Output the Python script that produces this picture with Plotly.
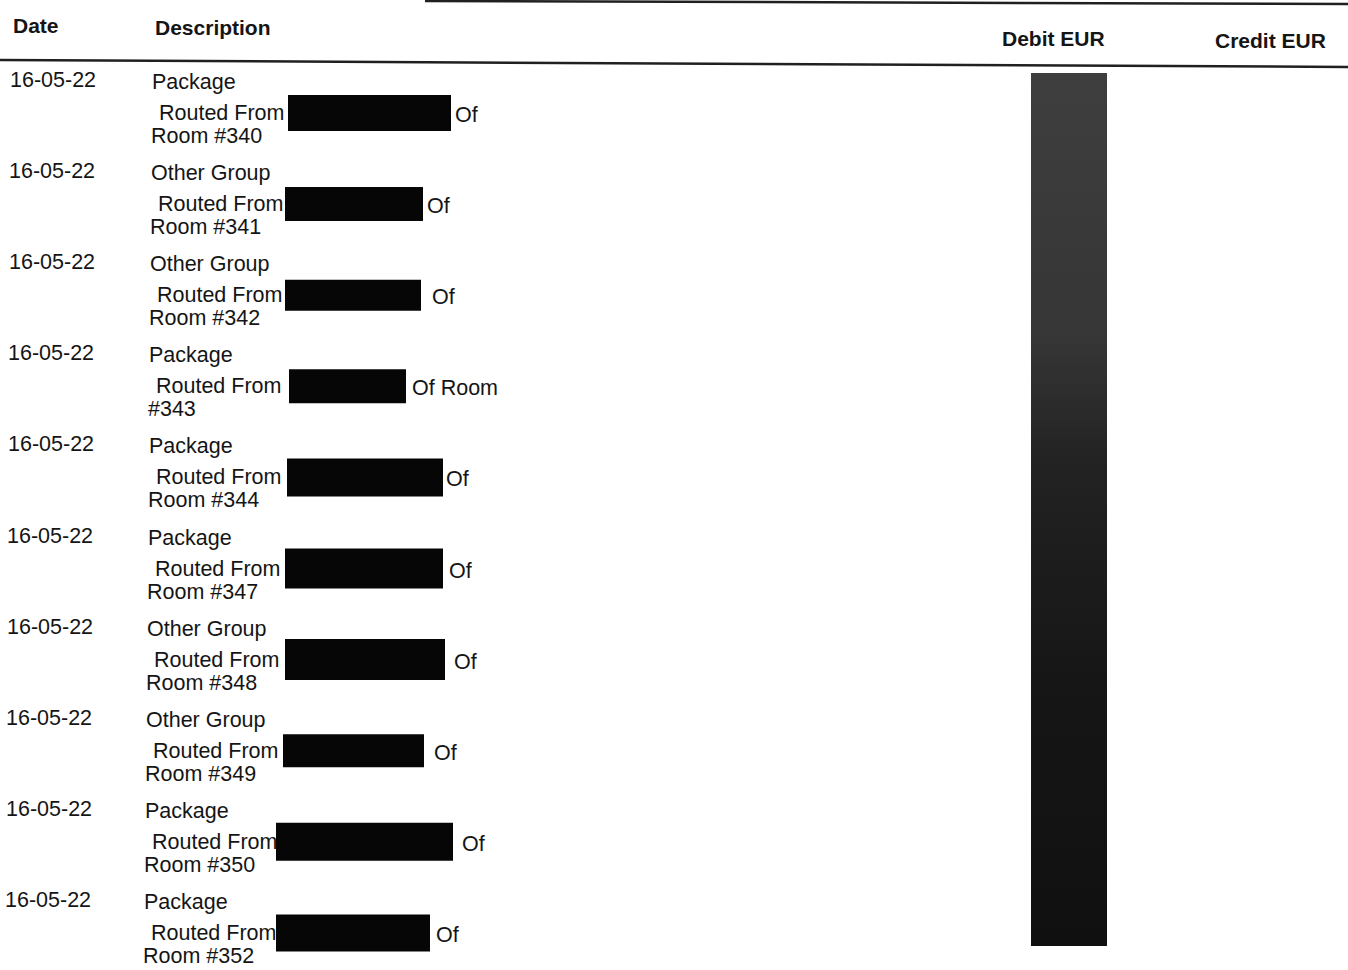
"""
Scanned folio page: date / description rows with redacted names
"""
import plotly.graph_objects as go

# data
dates = ["16-05-22"] * 10
groups = ["Package", "Other Group", "Other Group", "Package", "Package",
          "Package", "Other Group", "Other Group", "Package", "Package"]
rooms = [340, 341, 342, 343, 344, 347, 348, 349, 350, 352]
room_wrapped = [False, False, False, True, False, False, False, False, False, False]
headers = ["Date", "Description", "Debit EUR", "Credit EUR"]

# layout of the scan (pixels)
W, H = 1348, 970
ROW_Y0, ROW_PITCH = 81, 91.1
LINE2_DY, LINE3_DY = 32, 55
SKEW = 0.85  # page is a bit rotated, text drifts left going down
box_x = [288, 285, 285, 289, 287, 285, 285, 283, 276, 276]
box_w = [163, 138, 136, 117, 156, 158, 160, 141, 177, 154]
box_h = [36, 34, 31, 34, 38, 40, 41, 33, 38, 37]
of_gap = [2, 2, 9, 4, 1, 4, 7, 8, 7, 4]
DEBIT_BAR = dict(x0=1031, x1=1107, y0=73, y1=946)

COLORS = {
    "ink": "#151515",
    "redact": "#060606",
    "rule": "#202020",
}
FONT = "Liberation Sans, Arial, sans-serif"

fig = go.Figure()

# dark column covering the debit amounts
b = DEBIT_BAR
fig.add_trace(go.Scatter(
    x=[b["x0"], b["x1"], b["x1"], b["x0"], b["x0"]],
    y=[b["y0"], b["y0"], b["y1"], b["y1"], b["y0"]],
    mode="lines",
    line=dict(width=0),
    fill="toself",
    fillgradient=dict(
        type="vertical",
        start=b["y0"], stop=b["y1"],
        colorscale=[[0, "#3e3e3e"], [0.3, "#363636"], [0.45, "#222222"],
                    [0.7, "#161616"], [1, "#101010"]],
    ),
    hoverinfo="skip",
    showlegend=False,
))

annotations = []


def add_text(x, y, text, size=21.5, bold=False):
    annotations.append(dict(
        x=x, y=y, xref="x", yref="y", text=f"<b>{text}</b>" if bold else text,
        showarrow=False, xanchor="left", yanchor="middle",
        font=dict(family=FONT, size=size, color=COLORS["ink"]),
    ))


# header
add_text(11, 25, headers[0], size=21, bold=True)
add_text(153, 27, headers[1], size=21, bold=True)
add_text(1000, 38, headers[2], size=21, bold=True)
add_text(1213, 40, headers[3], size=21, bold=True)

# rules
fig.add_shape(type="line", x0=425, y0=1, x1=W, y1=4,
              line=dict(color=COLORS["rule"], width=2.5))
fig.add_shape(type="line", x0=0, y0=60, x1=W, y1=67,
              line=dict(color=COLORS["rule"], width=2.5))

for i, (d, g, r) in enumerate(zip(dates, groups, rooms)):
    y = ROW_Y0 + i * ROW_PITCH
    dx = -SKEW * i
    add_text(8 + dx * 0.6, y - 1, d)
    add_text(150 + dx, y + 1, g)
    add_text(157 + dx, y + LINE2_DY, "Routed From")
    # redaction box
    bx0 = box_x[i]
    bx1 = bx0 + box_w[i]
    yc = y + LINE2_DY
    fig.add_shape(type="rect", x0=bx0, x1=bx1,
                  y0=yc - box_h[i] / 2, y1=yc + box_h[i] / 2,
                  fillcolor=COLORS["redact"], line=dict(width=0))
    tail = "Of Room" if room_wrapped[i] else "Of"
    add_text(bx1 + of_gap[i], yc + 2, tail)
    room_txt = f"#{r}" if room_wrapped[i] else f"Room #{r}"
    add_text(149 + dx, y + LINE3_DY, room_txt)

fig.update_layout(
    width=W, height=H,
    margin=dict(l=0, r=0, t=0, b=0),
    paper_bgcolor="white",
    plot_bgcolor="white",
    showlegend=False,
    annotations=annotations,
    xaxis=dict(range=[0, W], visible=False, fixedrange=True),
    yaxis=dict(range=[H, 0], visible=False, fixedrange=True),
)

fig.write_html("out.html", config=dict(displayModeBar=False),
               post_script="document.body.style.margin='0';")
